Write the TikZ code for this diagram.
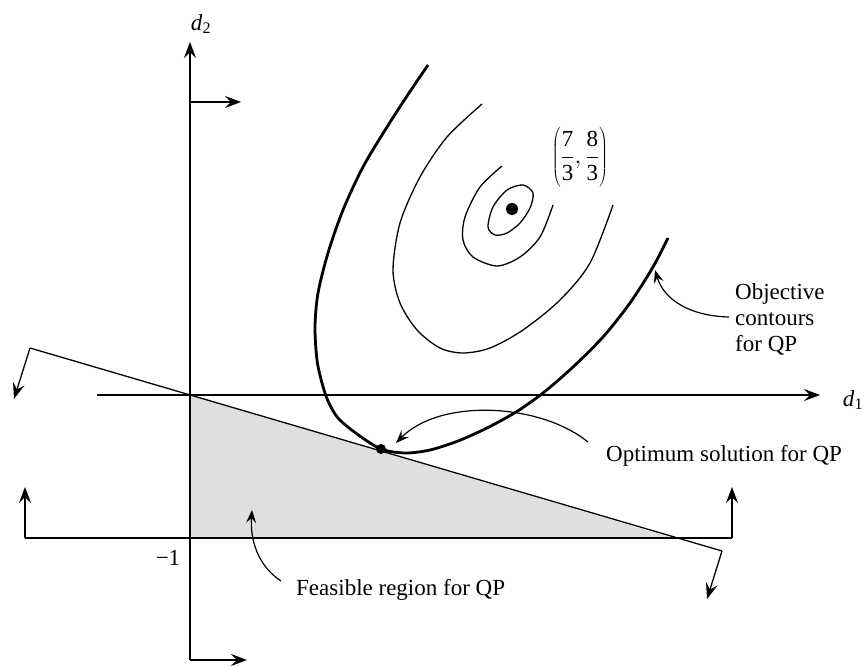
\documentclass[tikz,border=0pt]{standalone}
\usepackage{fontspec}
\setmainfont{Liberation Serif}
\usetikzlibrary{arrows.meta}
\begin{document}
\begin{tikzpicture}[x=1pt,y=-1pt,
  every node/.style={font=\fontsize{23}{26}\selectfont, inner sep=0pt},
  tip/.style={-{Stealth[length=16pt,width=12pt,inset=6pt]}},
  thin line/.style={line width=1.3pt},
  callout/.style={line width=1.2pt,-{Stealth[length=13pt,width=10pt,inset=5pt]}},
  bound/.style={line width=2.4pt},
  contour/.style={line width=1.3pt},
  thickcontour/.style={line width=2.8pt}]
\useasboundingbox (0,0) rectangle (864,666);
% coordinates
\coordinate (O) at (190,395);
\coordinate (d2top) at (190,42);
\coordinate (d2bot) at (190,660);
\coordinate (d2topr) at (190,102);
\coordinate (d2toprtip) at (241,102);
\coordinate (d2botrtip) at (247,660);
\coordinate (d1left) at (97,395);
\coordinate (d1tip) at (820,395);
\coordinate (hL) at (25,538);
\coordinate (hLtip) at (25,487);
\coordinate (hR) at (732,538);
\coordinate (hRtip) at (732,487);
\coordinate (corner) at (190,538);
\coordinate (tri) at (673,538);
\coordinate (sL) at (30,348);
\coordinate (sLtip) at (14,399);
\coordinate (sR) at (722,551);
\coordinate (sRtip) at (707,599);
\coordinate (opt) at (381,449);
\coordinate (ctr) at (512,209);
% feasible region
\fill[gray!25] (O) -- (corner) -- (tri) -- cycle;
% axes
\draw[thin line,tip] (d2bot) -- (d2top);
\draw[thin line,tip] (d2topr) -- (d2toprtip);
\draw[thin line,tip] (d2bot) -- (d2botrtip);
\draw[thin line,tip] (d1left) -- (d1tip);
% constraint d2 = -1
\draw[thin line,tip] (hL) -- (hLtip);
\draw[thin line] (hL) -- (hR);
\draw[thin line,tip] (hR) -- (hRtip);
% slanted constraint
\draw[thin line,tip] (sL) -- (sLtip);
\draw[thin line] (sL) -- (sR);
\draw[thin line,tip] (sR) -- (sRtip);
% feasible boundary
\draw[bound] (O) -- (corner) -- (tri);
% contours
\draw[thickcontour] plot[smooth] coordinates {(428,65) (409,93) (387,127) (363,167) (343,210) (328,253) (318,293) (315,327) (317,360) (322,383) (328,401) (338,418) (357,434) (381,449) (405,453) (430,450) (458,441) (487,428) (516,412) (543,393) (573,367) (603,337) (630,303) (653,267) (668,238)};
\draw[contour] plot[smooth] coordinates {(482,104) (447,137) (420,177) (400,223) (393,270) (400,303) (417,330) (440,348) (463,353) (490,348) (523,330) (560,300) (590,263) (613,205)};
\draw[contour] plot[smooth] coordinates {(502,166) (480,187) (465,217) (463,240) (473,257) (497,266) (520,257) (540,237) (553,205)};
\draw[contour] plot[smooth cycle] coordinates {(523,185) (507,190) (493,207) (488,227) (495,235) (507,233) (520,223) (530,208) (533,193)};
% points
\fill (opt) circle (5);
\fill (ctr) circle (6);
% labels
\node (lbld2) at (201,24) {\textit{d}\textsubscript{2}};
\node (lbld1) at (853,400) {\textit{d}\textsubscript{1}};
\node (lblm1) at (168,558) {−1};
\node (lblpt) at (580,157) {$\left(\rule[-24pt]{0pt}{60pt}{\displaystyle\frac{\mathrm{7}}{\mathrm{3}}},{\displaystyle\frac{\mathrm{8}}{\mathrm{3}}}\right)$};
\node[anchor=west,align=left] (lblobj) at (735,319) {Objective\\contours\\for QP};
\node[anchor=west] (lblopt) at (606,456) {Optimum solution for QP};
\node[anchor=west] (lblfeas) at (296,590) {Feasible region for QP};
% callouts
\coordinate (objs) at (729,317);
\coordinate (objt) at (655,270);
\coordinate (opts) at (588,442);
\coordinate (optt) at (396,443);
\coordinate (feass) at (281,581);
\coordinate (feast) at (252,510);
\draw[callout] (objs) .. controls (690,316) and (664,300) .. (objt);
\draw[callout] (opts) .. controls (540,403) and (440,398) .. (optt);
\draw[callout] (feass) .. controls (258,566) and (250,540) .. (feast);
\end{tikzpicture}
\end{document}
